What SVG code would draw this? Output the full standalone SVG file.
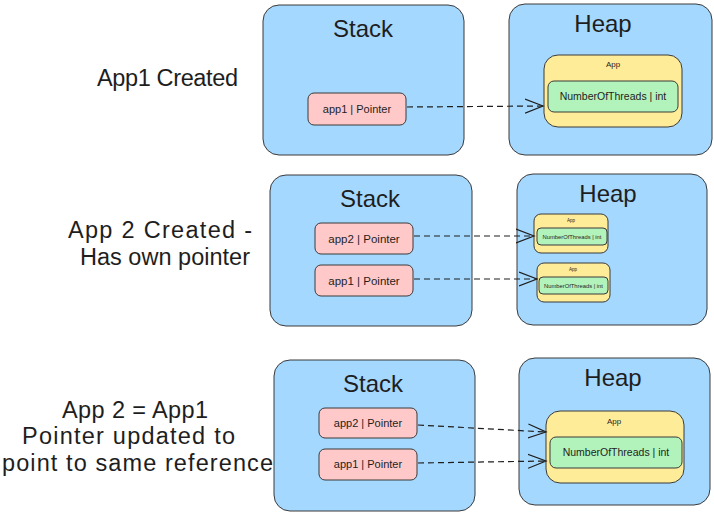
<svg xmlns="http://www.w3.org/2000/svg" width="714" height="512" viewBox="0 0 714 512">
<style>
  text { font-family: "Liberation Sans", Arial, sans-serif; fill: #1e1e1e; }
  .blue { fill: #a5d8ff; stroke: #3a3a3a; stroke-width: 1; }
  .pink { fill: #ffc9c9; stroke: #3a3a3a; stroke-width: 1; }
  .yellow { fill: #ffec99; stroke: #3a3a3a; stroke-width: 1; }
  .green { fill: #b2f2bb; stroke: #3a3a3a; stroke-width: 1; }
  .title { font-size: 24px; text-anchor: middle; }
  .label { font-size: 23.5px; }
  .ptr { font-size: 11px; text-anchor: middle; }
  .ptrl { font-size: 11.5px; text-anchor: middle; }
  .conn { fill: none; stroke: #1e1e1e; stroke-width: 1.2; stroke-dasharray: 6 4; }
</style>
<defs>
  <marker id="chev" markerUnits="userSpaceOnUse" markerWidth="20" markerHeight="16" refX="18" refY="7" orient="auto" viewBox="0 0 20 14">
    <path d="M0,0 L18,7 L0,14" fill="none" stroke="#1e1e1e" stroke-width="1.2"/>
  </marker>
</defs>
<rect width="714" height="512" fill="#ffffff"/>

<!-- Left labels -->
<g id="label-1">
  <text class="label" x="97" y="86" textLength="141">App1 Created</text>
</g>
<g id="label-2">
  <text class="label" x="68" y="238" textLength="184">App 2 Created -</text>
  <text class="label" x="80" y="265" textLength="170">Has own pointer</text>
</g>
<g id="label-3">
  <text class="label" x="62" y="418" textLength="146">App 2 = App1</text>
  <text class="label" x="22" y="444" textLength="213">Pointer updated to</text>
  <text class="label" x="2" y="471" textLength="271">point to same reference</text>
</g>

<!-- Row 1 -->
<g id="stack-1">
  <rect class="blue" x="263" y="5" width="201" height="150" rx="16"/>
  <text class="title" x="363" y="37">Stack</text>
</g>
<g id="ptr-1-app1">
  <rect class="pink" x="308" y="93" width="98" height="32" rx="6"/>
  <text class="ptr" x="357" y="113">app1 | Pointer</text>
</g>
<g id="heap-1">
  <rect class="blue" x="509" y="4" width="203" height="151" rx="16"/>
  <text class="title" x="603" y="32">Heap</text>
</g>
<g id="heap-1-app">
  <rect class="yellow" x="544" y="55" width="138" height="72" rx="14"/>
  <text x="613" y="67" font-size="8" text-anchor="middle">App</text>
  <rect class="green" x="548" y="81" width="130" height="31" rx="6"/>
  <text x="613" y="100" font-size="10.5" text-anchor="middle">NumberOfThreads | int</text>
</g>

<!-- Row 2 -->
<g id="stack-2">
  <rect class="blue" x="270" y="175" width="202" height="151" rx="16"/>
  <text class="title" x="370" y="207">Stack</text>
</g>
<g id="ptr-2-app2">
  <rect class="pink" x="315" y="223" width="98" height="31" rx="6"/>
  <text class="ptrl" x="364" y="243">app2 | Pointer</text>
</g>
<g id="ptr-2-app1">
  <rect class="pink" x="315" y="265" width="98" height="31" rx="6"/>
  <text class="ptrl" x="364" y="285">app1 | Pointer</text>
</g>
<g id="heap-2">
  <rect class="blue" x="517" y="174" width="190" height="151" rx="16"/>
  <text class="title" x="608" y="202">Heap</text>
</g>
<g id="heap-2-app-a">
  <rect class="yellow" x="534" y="214" width="74" height="39" rx="7"/>
  <text x="571" y="222" font-size="4.5" text-anchor="middle">App</text>
  <rect class="green" x="537" y="228" width="70" height="17" rx="4"/>
  <text x="572" y="238.5" font-size="5.8" text-anchor="middle">NumberOfThreads | int</text>
</g>
<g id="heap-2-app-b">
  <rect class="yellow" x="537" y="263" width="73" height="39" rx="7"/>
  <text x="573" y="271" font-size="4.5" text-anchor="middle">App</text>
  <rect class="green" x="539" y="277" width="69" height="17" rx="4"/>
  <text x="573.5" y="287.5" font-size="5.8" text-anchor="middle">NumberOfThreads | int</text>
</g>

<!-- Row 3 -->
<g id="stack-3">
  <rect class="blue" x="274" y="360" width="201" height="151" rx="16"/>
  <text class="title" x="373" y="392">Stack</text>
</g>
<g id="ptr-3-app2">
  <rect class="pink" x="319" y="408" width="98" height="30" rx="6"/>
  <text class="ptr" x="368" y="427">app2 | Pointer</text>
</g>
<g id="ptr-3-app1">
  <rect class="pink" x="319" y="449" width="98" height="31" rx="6"/>
  <text class="ptr" x="368" y="468">app1 | Pointer</text>
</g>
<g id="heap-3">
  <rect class="blue" x="519" y="358" width="191" height="147" rx="16"/>
  <text class="title" x="613" y="386">Heap</text>
</g>
<g id="heap-3-app">
  <rect class="yellow" x="546" y="411" width="138" height="72" rx="14"/>
  <text x="614" y="424" font-size="8" text-anchor="middle">App</text>
  <rect class="green" x="550" y="437" width="132" height="31" rx="6"/>
  <text x="616" y="456" font-size="10.5" text-anchor="middle">NumberOfThreads | int</text>
</g>

<!-- Connectors -->
<g id="connectors">
  <path class="conn" d="M407,107 L543,106" marker-end="url(#chev)"/>
  <path class="conn" d="M414,236 L534,236" marker-end="url(#chev)"/>
  <path class="conn" d="M414,279 L537,279" marker-end="url(#chev)"/>
  <path class="conn" d="M418,425 L546,432" marker-end="url(#chev)"/>
  <path class="conn" d="M418,463 L546,461" marker-end="url(#chev)"/>
</g>
</svg>
